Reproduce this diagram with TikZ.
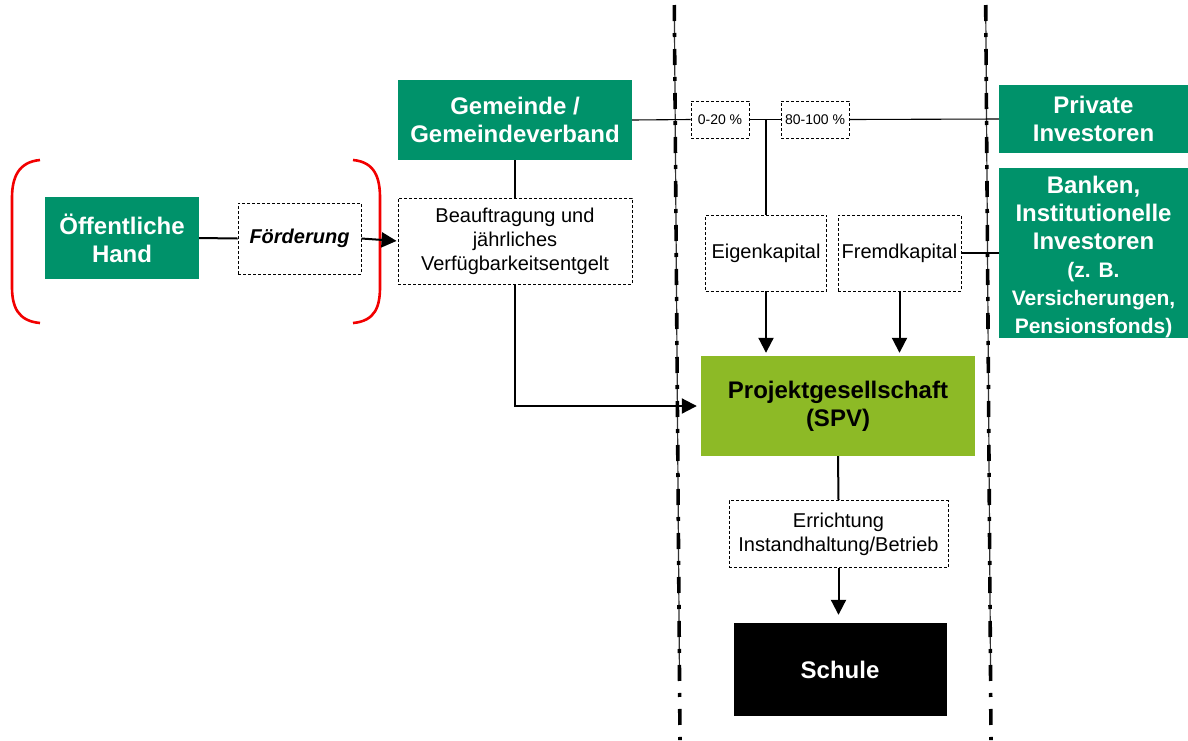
\documentclass[tikz,border=0pt]{standalone}
\usepackage{fontspec}
\setmainfont{Liberation Sans}
\usetikzlibrary{arrows.meta}
\definecolor{hgreen}{RGB}{0,146,106}
\definecolor{spvgreen}{RGB}{141,186,38}
\tikzset{
  greenbox/.style={fill=hgreen, text=white, font=\bfseries\fontsize{24}{28}\selectfont, align=center, inner sep=0pt},
  dbox/.style={draw=black, line width=0.9pt, dash pattern=on 3pt off 2pt, align=center, inner sep=0pt, font=\fontsize{20}{24}\selectfont},
  conn/.style={line width=2pt},
  thin conn/.style={line width=1.1pt},
  arr/.style={line width=2pt, -{Triangle[length=15pt,width=15pt]}},
  divline/.style={line width=1.2pt, black!80},
  divdash/.style={line width=3.6pt, line cap=butt, dash pattern=on 16pt off 12pt on 4pt off 12pt},
  brk/.style={line width=2.6pt, red!95!black}
}
\begin{document}
\begin{tikzpicture}[x=1pt,y=-1pt]
\useasboundingbox (0,0) rectangle (1188,740);
% divider lines
\coordinate (L0) at (674.3,5);
\coordinate (L1) at (679.5,680);
\coordinate (L2) at (680,740);
\coordinate (R0) at (985.7,5);
\coordinate (R1) at (990.6,680);
\coordinate (R2) at (991,740);
\draw[divline] (L0) -- (L1);
\draw[divline] (R0) -- (R1);
\draw[divdash] (L0) -- (L2);
\draw[divdash] (R0) -- (R2);
% brackets
\draw[brk] (40,160) .. controls (18,162) and (12,178) .. (12,198) -- (12,287) .. controls (12,307) and (18,321) .. (40,323);
\draw[brk] (353,160) .. controls (375,162) and (380,178) .. (380,198) -- (380,287) .. controls (380,307) and (375,321) .. (353,323);
% nodes
\node[greenbox, minimum width=154pt, minimum height=82pt] (oh) at (122,238) {Öffentliche\\Hand};
\node[dbox, minimum width=123pt, minimum height=71pt, font=\bfseries\itshape\fontsize{20}{24}\selectfont] (foe) at (299.5,238.5) {Förderung};
\node[dbox, minimum width=234pt, minimum height=86pt] (bea) at (515,241) {Beauftragung und\\jährliches\\Verfügbarkeitsentgelt};
\node[greenbox, minimum width=234pt, minimum height=80pt] (gem) at (515,120) {Gemeinde /\\Gemeindeverband};
\node[dbox, minimum width=58pt, minimum height=37pt, font=\fontsize{14}{16}\selectfont] (p1) at (720,119.5) {0-20 \%};
\node[dbox, minimum width=68pt, minimum height=37pt, font=\fontsize{14}{16}\selectfont] (p2) at (815,119.5) {80-100 \%};
\node[dbox, minimum width=121pt, minimum height=76pt] (eig) at (766,253) {Eigenkapital};
\node[dbox, minimum width=123pt, minimum height=76pt] (fre) at (899.5,253) {Fremdkapital};
\node[fill=spvgreen, minimum width=274pt, minimum height=100pt, inner sep=0pt, align=center, font=\bfseries\fontsize{24}{28}\selectfont] (spv) at (838,406) {Projektgesellschaft\\(SPV)};
\node[dbox, minimum width=219pt, minimum height=67pt] (err) at (838.5,534) {Errichtung\\Instandhaltung/Betrieb};
\node[fill=black, text=white, minimum width=213pt, minimum height=93pt, inner sep=0pt, font=\bfseries\fontsize{24}{28}\selectfont] (sch) at (840,669.5) {Schule};
\node[greenbox, minimum width=189pt, minimum height=68pt] (pri) at (1093.5,119) {Private\\Investoren};
\node[greenbox, minimum width=189pt, minimum height=170pt] (ban) at (1093.5,253) {};
\node[greenbox, fill=none] (bantext) at ([yshift=-4pt]ban.center) {Banken,\\Institutionelle\\Investoren\\{\fontsize{21}{27}\selectfont (z. B.}\\{\fontsize{21}{27}\selectfont Versicherungen,}\\{\fontsize{21}{27}\selectfont Pensionsfonds)}};
% connectors
\draw[conn] (oh.east) -- (foe.west);
\draw[arr, shorten >=1pt] (foe.east) -- (bea.west);
\draw[conn] (gem.south) -- (bea.north);
\draw[arr, shorten >=4pt] (bea.south) -- (bea.south |- spv.west) -- (spv.west);
\draw[thin conn] (gem.east) -- (p1.west);
\draw[thin conn] (p1.east) -- (p2.west);
\draw[thin conn] (p2.east) -- (pri.west);
\coordinate (j) at (766,119.5);
\draw[conn] (j) -- (eig.north);
\draw[thin conn] (fre.east) -- (ban.west);
\draw[arr, shorten >=3pt] (eig.south) -- (eig.south |- spv.north);
\draw[arr, shorten >=3pt] (fre.south) -- (fre.south |- spv.north);
\draw[conn] (spv.south) -- (err.north);
\draw[arr, shorten >=8pt] (err.south) -- (err.south |- sch.north);
\end{tikzpicture}
\end{document}
